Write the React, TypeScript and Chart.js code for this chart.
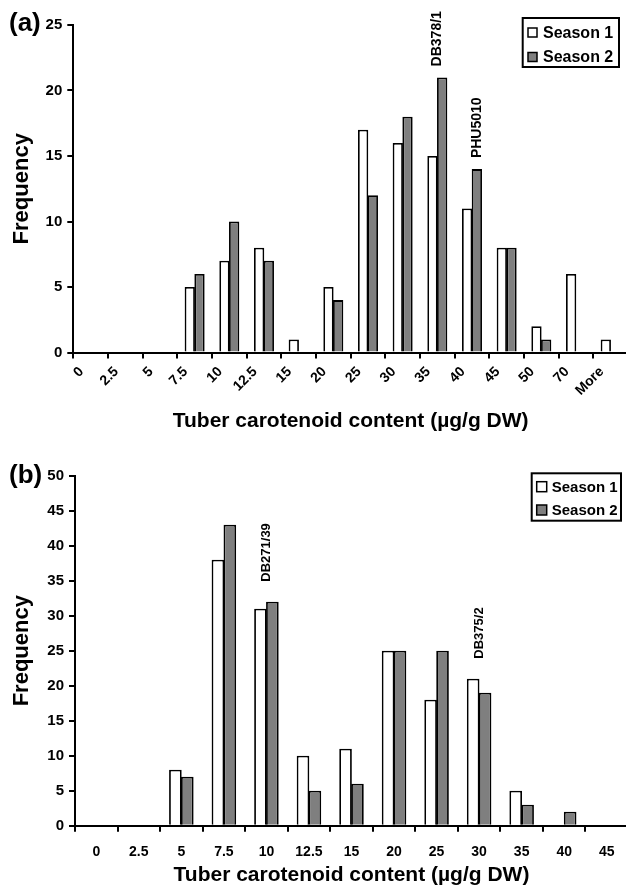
import React, { useEffect, useRef } from 'react';
import { Chart, registerables } from 'chart.js';

Chart.register(...registerables);

const FONT = "'Liberation Sans', Arial, Helvetica, sans-serif";

// Panel (a): carotenoid content classes, two seasons
const binsA = ['0', '2.5', '5', '7.5', '10', '12.5', '15', '20', '25', '30', '35', '40', '45', '50', '70', 'More'];
const season1A = [0, 0, 0, 5, 7, 8, 1, 5, 17, 16, 15, 11, 8, 2, 6, 1];
const season2A = [0, 0, 0, 6, 10, 7, 0, 4, 12, 18, 21, 14, 8, 1, 0, 0];
const yMaxA = 25;
const notesA = [
  { bin: '35', text: 'DB378/1', over: 'pair' },
  { bin: '40', text: 'PHU5010', over: 'Season 2' },
];

// Panel (b)
const binsB = ['0', '2.5', '5', '7.5', '10', '12.5', '15', '20', '25', '30', '35', '40', '45'];
const season1B = [0, 0, 8, 38, 31, 10, 11, 25, 18, 21, 5, 0, 0];
const season2B = [0, 0, 7, 43, 32, 5, 6, 25, 25, 19, 3, 2, 0];
const yMaxB = 50;
const notesB = [
  { bin: '10', text: 'DB271/39', over: 'pair' },
  { bin: '30', text: 'DB375/2', over: 'pair' },
];

const yStep = 5;
const seriesNames = ['Season 1', 'Season 2'];
const seriesFill = ['#ffffff', '#7f7f7f'];
const xTitle = 'Tuber carotenoid content (µg/g DW)';
const yTitle = 'Frequency';

const CANVAS_W = 628;

// Draws the panel letter, the genotype call-outs and the boxed legend.
const decorPlugin = {
  id: 'decor',
  afterDatasetsDraw(chart: any, _args: any, opts: any) {
    const ctx: CanvasRenderingContext2D = chart.ctx;
    ctx.save();
    ctx.fillStyle = '#000';

    // panel letter
    ctx.font = `bold ${opts.letterSize}px ${FONT}`;
    ctx.textAlign = 'left';
    ctx.textBaseline = 'middle';
    ctx.fillText(opts.letter, opts.letterX, opts.letterY);

    // vertical call-outs above bars
    const xs = chart.scales.x;
    ctx.font = `bold ${opts.noteSize}px ${FONT}`;
    (opts.notes || []).forEach((n: any) => {
      const idx = chart.data.labels.indexOf(n.bin);
      if (idx < 0) return;
      const bars = chart.data.datasets.map((_d: any, di: number) => chart.getDatasetMeta(di).data[idx]);
      let x: number;
      let top: number;
      if (n.over === 'pair') {
        x = xs.getPixelForValue(idx);
        top = Math.min(...bars.map((b: any) => b.y));
      } else {
        const di = chart.data.datasets.findIndex((d: any) => d.label === n.over);
        x = bars[di].x;
        top = bars[di].y;
      }
      ctx.save();
      ctx.translate(x, top - opts.noteGap);
      ctx.rotate(-Math.PI / 2);
      ctx.textAlign = 'left';
      ctx.textBaseline = 'middle';
      ctx.fillText(n.text, 0, 0);
      ctx.restore();
    });

    // boxed legend
    const lg = opts.legend;
    ctx.lineWidth = 2;
    ctx.strokeStyle = '#000';
    ctx.fillStyle = '#fff';
    ctx.fillRect(lg.x, lg.y, lg.w, lg.h);
    ctx.strokeRect(lg.x, lg.y, lg.w, lg.h);
    ctx.font = `bold ${lg.fontSize}px ${FONT}`;
    ctx.textAlign = 'left';
    ctx.textBaseline = 'middle';
    chart.data.datasets.forEach((d: any, i: number) => {
      const cy = lg.rows[i];
      ctx.fillStyle = d.backgroundColor;
      ctx.fillRect(lg.swX, cy - lg.sw / 2, lg.sw, lg.sw);
      ctx.lineWidth = 1.5;
      ctx.strokeRect(lg.swX, cy - lg.sw / 2, lg.sw, lg.sw);
      ctx.fillStyle = '#000';
      ctx.fillText(d.label, lg.textX, cy + 1);
    });
    ctx.restore();
  },
};

function buildConfig(p: any) {
  const xTickFont = { family: FONT, size: 14, weight: 'bold' as const };
  const yTickFont = { family: FONT, size: 15, weight: 'bold' as const };
  const axisGrid = {
    display: true,
    drawOnChartArea: false,
    drawTicks: true,
    tickLength: 6,
    tickWidth: 2,
    color: '#000',
    lineWidth: 2,
  };
  return {
    type: 'bar' as const,
    data: {
      labels: p.labels,
      datasets: p.series.map((vals: number[], i: number) => ({
        label: seriesNames[i],
        data: vals,
        backgroundColor: seriesFill[i],
        borderColor: '#000',
        borderWidth: 1.8,
        borderSkipped: 'bottom',
        categoryPercentage: 0.56,
        barPercentage: 1.06,
      })),
    },
    options: {
      animation: false,
      responsive: false,
      maintainAspectRatio: false,
      events: [],
      layout: { padding: { top: p.padTop, left: 0, right: 0, bottom: 0 } },
      plugins: {
        legend: { display: false },
        tooltip: { enabled: false },
        decor: p.decor,
      },
      scales: {
        x: {
          type: 'category',
          offset: true,
          grid: { ...axisGrid, offset: true },
          border: { display: true, color: '#000', width: 2 },
          ticks: {
            color: '#000',
            font: xTickFont,
            autoSkip: false,
            maxRotation: p.rotation,
            minRotation: p.rotation,
            padding: p.xTickPad,
            labelOffset: p.xLabelShift,
          },
          title: {
            display: true,
            text: xTitle,
            color: '#000',
            font: { family: FONT, size: 21, weight: 'bold' as const },
            padding: { top: 0, bottom: p.xTitlePad },
          },
          afterFit: (s: any) => {
            s.height = p.xHeight;
          },
        },
        y: {
          min: 0,
          max: p.yMax,
          grid: axisGrid,
          border: { display: true, color: '#000', width: 2 },
          ticks: {
            stepSize: yStep,
            color: '#000',
            font: yTickFont,
            padding: 5,
          },
          title: {
            display: true,
            text: yTitle,
            color: '#000',
            font: { family: FONT, size: 22, weight: 'bold' as const },
            padding: { top: 9, bottom: 0 },
          },
          afterFit: (s: any) => {
            s.width = p.yWidth;
          },
        },
      },
    },
    plugins: [decorPlugin],
  };
}

const panelA = {
  labels: binsA,
  series: [season1A, season2A],
  yMax: yMaxA,
  padTop: 25,
  height: 440,
  xHeight: 87.5,
  yWidth: 73.3,
  rotation: 45,
  xTickPad: 5,
  xLabelShift: -9,
  xTitlePad: 6,
  decor: {
    letter: '(a)',
    letterSize: 26,
    letterX: 9,
    letterY: 24,
    notes: notesA,
    noteSize: 14,
    noteGap: 11,
    legend: { x: 522.7, y: 18, w: 96.3, h: 49, rows: [32.5, 57], swX: 528, sw: 9, textX: 543, fontSize: 16 },
  },
};

const panelB = {
  labels: binsB,
  series: [season1B, season2B],
  yMax: yMaxB,
  padTop: 35.7,
  height: 452,
  xHeight: 66.3,
  yWidth: 75,
  rotation: 0,
  xTickPad: 12,
  xLabelShift: 0,
  xTitlePad: 4,
  decor: {
    letter: '(b)',
    letterSize: 26,
    letterX: 9,
    letterY: 36,
    notes: notesB,
    noteSize: 13,
    noteGap: 20,
    legend: { x: 531.7, y: 33.3, w: 89.3, h: 47.4, rows: [46.7, 70], swX: 536.7, sw: 10, textX: 551.7, fontSize: 15 },
  },
};

function Panel({ cfg, top }: { cfg: any; top: number }) {
  const ref = useRef<HTMLCanvasElement>(null);
  useEffect(() => {
    const chart = new Chart(ref.current as HTMLCanvasElement, buildConfig(cfg) as any);
    return () => chart.destroy();
  }, [cfg]);
  return (
    <canvas
      ref={ref}
      width={CANVAS_W}
      height={cfg.height}
      style={{ position: 'absolute', left: 0, top, width: CANVAS_W, height: cfg.height }}
    />
  );
}

export default function App() {
  return (
    <div
      style={{
        position: 'fixed',
        left: 0,
        top: 0,
        width: 626,
        height: 892,
        overflow: 'hidden',
        background: '#fff',
      }}
    >
      <Panel cfg={panelA} top={0} />
      <Panel cfg={panelB} top={440} />
    </div>
  );
}
